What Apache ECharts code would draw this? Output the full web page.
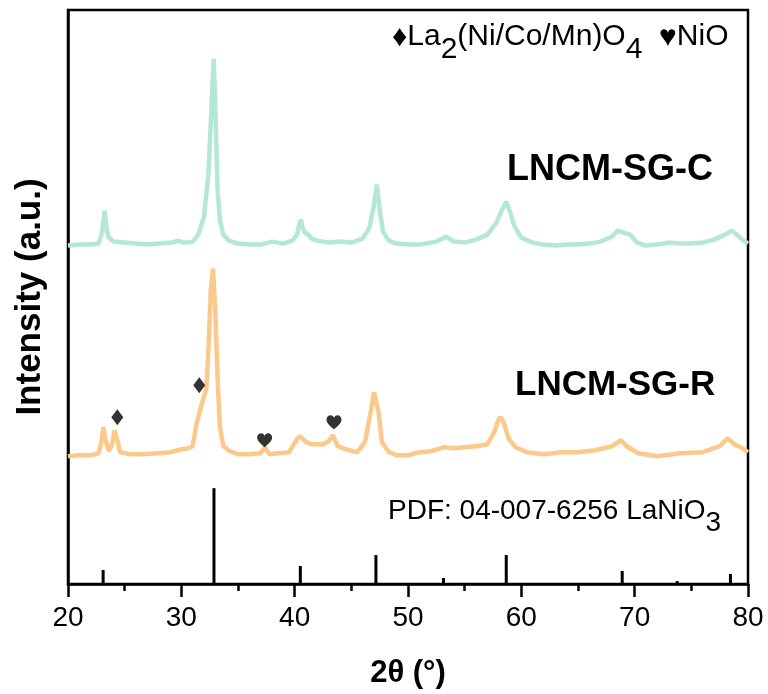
<!DOCTYPE html>
<html>
<head>
<meta charset="utf-8">
<script src="https://cdn.jsdelivr.net/npm/echarts@6/dist/echarts.min.js"></script>
<style>
  html, body { margin: 0; padding: 0; background: #fff; }
  #chart { width: 768px; height: 694px; }
</style>
</head>
<body>
<div id="chart"></div>
<script>
// 2theta (deg), intensity (a.u., offset stacked)
const lncmC = [
  [20, 339], [21, 340], [22, 340], [22.7, 341], [23.0, 352], [23.24, 374], [23.4, 357], [23.55, 348],
  [24.0, 343], [25, 342], [26, 341], [27, 340], [28, 341], [29.2, 342], [29.7, 344], [30.2, 342],
  [30.5, 342], [31.0, 343], [31.5, 350], [32.0, 368], [32.4, 412], [32.6, 462], [32.75, 502],
  [32.85, 526], [32.95, 497], [33.05, 457], [33.2, 395], [33.4, 365], [33.7, 350], [34.2, 344],
  [35, 341], [36, 340], [37, 340], [38, 343], [39, 341], [39.8, 344], [40.2, 350], [40.4, 360],
  [40.56, 365], [40.7, 357], [40.9, 352], [41.1, 351], [41.5, 346], [42, 344], [43, 342], [44, 343],
  [45, 342], [46, 346], [46.6, 357], [47.0, 380], [47.26, 400], [47.5, 375], [47.8, 353], [48.3, 344],
  [49, 341], [50, 340], [51, 340], [52.5, 343], [53.4, 348], [54, 343], [55, 342], [56, 345],
  [57, 350], [57.8, 362], [58.3, 375], [58.66, 383], [59.0, 373], [59.4, 358], [60, 347], [61, 342],
  [62, 340], [63, 339], [64, 340], [65, 340], [66, 341], [67, 343], [68, 348], [68.5, 354],
  [69.0, 352], [69.6, 350], [70.2, 342], [71, 339], [72, 340], [73, 342], [74, 341], [75, 341],
  [76, 342], [77, 345], [78, 350], [78.56, 354], [79, 350], [79.5, 345], [80, 341]
];

const lncmR = [
  [20, 128], [21, 129], [22, 129], [22.7, 131], [22.95, 142], [23.12, 157], [23.3, 145], [23.6, 133],
  [23.9, 140], [24.1, 154], [24.24, 156], [24.4, 142], [24.6, 132], [25.5, 130], [26.5, 130], [28, 131],
  [29, 132], [30, 135], [30.6, 136], [31.0, 138], [31.3, 158], [31.6, 172], [32.0, 188], [32.2, 195],
  [32.4, 238], [32.6, 295], [32.8, 316], [33.0, 272], [33.2, 205], [33.4, 158], [33.7, 138], [34.3, 133],
  [35, 130], [36, 130], [37, 131], [37.35, 137], [37.8, 130], [38.5, 131], [39.5, 132], [40.2, 145],
  [40.5, 148], [41, 142], [41.5, 140], [42.5, 140], [43.0, 143], [43.35, 149], [43.8, 138], [44.5, 135],
  [45.5, 132], [46.2, 142], [46.7, 172], [47.0, 192], [47.15, 194], [47.4, 172], [47.7, 142], [48.3, 132],
  [49, 129], [50, 129], [51, 132], [52, 133], [53.2, 137], [54, 136], [55, 137], [56, 138],
  [57, 140], [57.6, 152], [58.0, 165], [58.2, 167], [58.5, 160], [58.9, 145], [59.5, 137], [60.5, 132],
  [62, 130], [63.5, 132], [65, 132], [66.5, 134], [68, 138], [68.8, 144], [69.3, 138], [70.3, 131],
  [72, 128], [74, 131], [76, 132], [77.5, 138], [78.2, 146], [78.8, 140], [79.5, 136], [80, 132]
];

// PDF 04-007-6256 LaNiO3 reference lines
const pdfLines = [
  [23.1, 14], [32.88, 96], [40.5, 18], [47.17, 29], [53.13, 6],
  [58.67, 29], [68.9, 13], [73.75, 3], [78.45, 10]
];

// phase markers
const diamondMarks = [[24.35, 167], [31.58, 199]];
const heartMarks = [[37.35, 144], [43.47, 162]];

const xTicks = [20, 30, 40, 50, 60, 70, 80];

const FONT = 'Arial, "Liberation Sans", sans-serif';
const heart = 'path://M50,90 C20,65 0,48 0,28 C0,12 12,0 27,0 C38,0 46,7 50,16 C54,7 62,0 73,0 C88,0 100,12 100,28 C100,48 80,65 50,90 Z';

const chart = echarts.init(document.getElementById('chart'));

chart.setOption({
  animation: false,
  grid: {
    left: 68, right: 20, top: 10, bottom: 109,
    show: true, borderColor: '#000', borderWidth: 2.5
  },
  xAxis: {
    type: 'value',
    min: xTicks[0],
    max: xTicks[xTicks.length - 1],
    interval: 10,
    name: '2θ (°)',
    nameLocation: 'middle',
    nameGap: 74,
    nameTextStyle: { color: '#000', fontSize: 31, fontWeight: 'bold', fontFamily: FONT },
    axisLine: { lineStyle: { color: '#000', width: 2.5 } },
    axisTick: { length: 13, lineStyle: { color: '#000', width: 2.5 } },
    minorTick: { show: true, splitNumber: 2, length: 7, lineStyle: { color: '#000', width: 2.5 } },
    axisLabel: { color: '#000', fontSize: 28, fontFamily: FONT, margin: 20 },
    splitLine: { show: false }
  },
  yAxis: {
    type: 'value',
    min: 0,
    max: 575,
    name: 'Intensity (a.u.)',
    nameLocation: 'middle',
    nameRotate: 90,
    nameGap: 20,
    nameTextStyle: { color: '#000', fontSize: 35, fontWeight: 'bold', fontFamily: FONT },
    axisLine: { show: true, lineStyle: { color: '#000', width: 2.5 } },
    axisTick: { show: false },
    axisLabel: { show: false },
    splitLine: { show: false }
  },
  graphic: [
    {
      type: 'text', left: 392, top: 22,
      style: {
        text: '{s|♦}{n|La}{b|2}{n|(Ni/Co/Mn)O}{b|4}{n|  }{s|♥}{n|NiO}',
        rich: {
          n: { fontSize: 30, fontFamily: FONT, lineHeight: 34, verticalAlign: 'top', fill: '#000' },
          b: { fontSize: 30, fontFamily: FONT, lineHeight: 34, verticalAlign: 'top', padding: [13, 0, 0, 0], fill: '#000' },
          s: { fontSize: 30, fontFamily: FONT, lineHeight: 34, verticalAlign: 'top', padding: [1, 0, 0, 0], fill: '#000' }
        }
      }
    },
    {
      type: 'text', left: 507, top: 152,
      style: { text: 'LNCM-SG-C', fontSize: 36, fontWeight: 'bold', fontFamily: FONT, fill: '#000' }
    },
    {
      type: 'text', left: 515, top: 368,
      style: { text: 'LNCM-SG-R', fontSize: 35, fontWeight: 'bold', fontFamily: FONT, fill: '#000' }
    },
    {
      type: 'text', left: 388, top: 497,
      style: {
        text: '{n|PDF: 04-007-6256 LaNiO}{b|3}',
        rich: {
          n: { fontSize: 28, fontFamily: FONT, lineHeight: 32, verticalAlign: 'top', fill: '#000' },
          b: { fontSize: 28, fontFamily: FONT, lineHeight: 32, verticalAlign: 'top', padding: [12, 0, 0, 0], fill: '#000' }
        }
      }
    }
  ],
  series: [
    {
      name: 'LNCM-SG-C', type: 'line', data: lncmC, showSymbol: false,
      lineStyle: { color: '#b4e8d5', width: 4.5 }, z: 2
    },
    {
      name: 'LNCM-SG-R', type: 'line', data: lncmR, showSymbol: false,
      lineStyle: { color: '#fdc98a', width: 4.5 }, z: 2
    },
    {
      name: 'PDF', type: 'bar', data: pdfLines, barWidth: 3,
      itemStyle: { color: '#000' }, z: 3
    },
    {
      name: 'La2(Ni/Co/Mn)O4', type: 'scatter', data: diamondMarks,
      symbol: 'diamond', symbolSize: [12, 16], itemStyle: { color: '#000' }, z: 4
    },
    {
      name: 'NiO', type: 'scatter', data: heartMarks,
      symbol: heart, symbolSize: [15, 14], itemStyle: { color: '#000' }, z: 4
    }
  ]
});
</script>
</body>
</html>
